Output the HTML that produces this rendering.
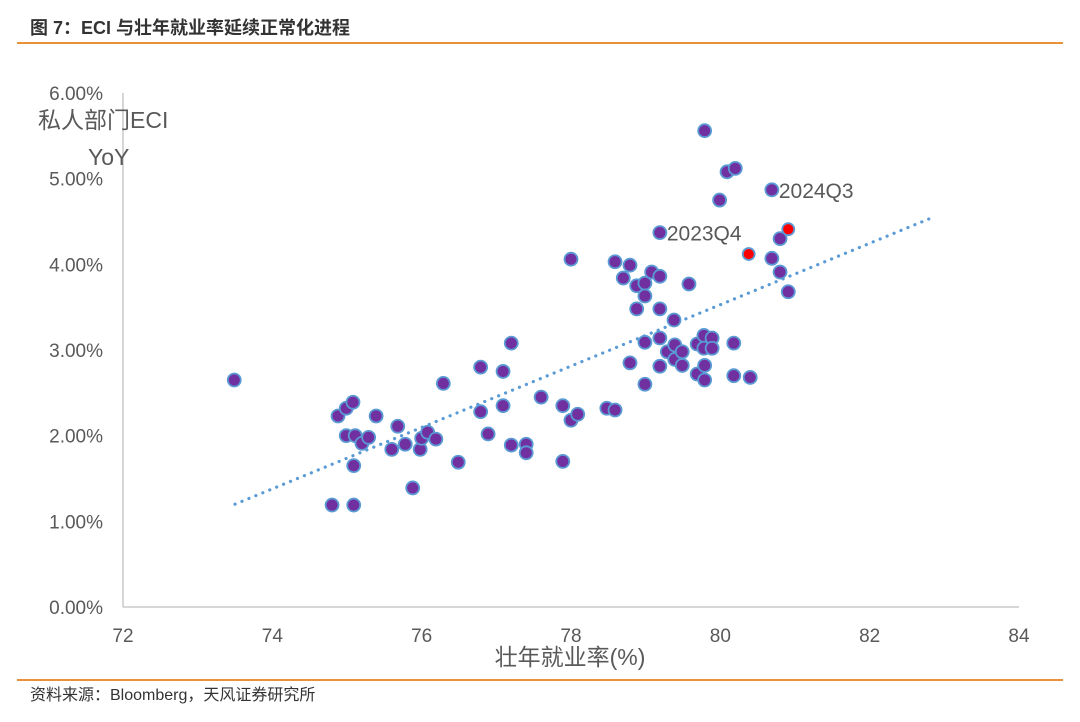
<!DOCTYPE html>
<html><head><meta charset="utf-8"><style>
body{margin:0;background:#fff;width:1080px;height:722px;overflow:hidden;font-family:"Liberation Sans","Noto Sans CJK SC",sans-serif}
</style></head><body>
<svg width="1080" height="722" style="position:absolute;left:0;top:0">
<text x="30" y="34" font-size="18" font-weight="bold" fill="#333">图 7：ECI 与壮年就业率延续正常化进程</text>
<line x1="17" y1="43" x2="1063" y2="43" stroke="#E8923A" stroke-width="2"/>
<line x1="17" y1="680" x2="1063" y2="680" stroke="#E8923A" stroke-width="2"/>
<text x="30" y="700" font-size="16" fill="#333">资料来源：Bloomberg，天风证券研究所</text>
<g id="plot"></g>
</svg>
<script>
const xTicks=[72,74,76,78,80,82,84];
const yTicks=[0,1,2,3,4,5,6];
const xs=[73.49,74.80,75.09,74.88,74.99,75.08,74.99,75.11,75.09,75.20,75.29,75.39,75.60,75.68,75.78,75.88,75.98,76.00,76.08,76.19,76.29,76.49,76.79,76.79,76.89,77.09,77.09,77.20,77.20,77.40,77.40,77.60,77.89,77.89,78.00,78.09,78.00,78.48,78.59,78.59,78.70,78.79,78.79,78.88,78.88,78.99,78.99,78.99,78.99,79.08,79.19,79.19,79.19,79.19,79.19,79.29,79.38,79.39,79.39,79.49,79.49,79.58,79.69,79.69,79.78,79.78,79.79,79.79,79.89,79.89,79.99,79.79,80.09,80.20,80.18,80.18,80.40,80.69,80.69,80.80,80.80,80.91];
const ys=[2.65,1.19,1.19,2.23,2.32,2.39,2.00,2.00,1.65,1.91,1.98,2.23,1.84,2.11,1.90,1.39,1.84,1.97,2.04,1.96,2.61,1.69,2.80,2.28,2.02,2.75,2.35,3.08,1.89,1.90,1.80,2.45,2.35,1.70,2.18,2.25,4.06,2.32,2.30,4.03,3.84,3.99,2.85,3.75,3.48,3.78,3.63,3.09,2.60,3.91,4.37,3.86,3.48,3.14,2.81,2.98,3.35,3.06,2.89,2.98,2.82,3.77,3.07,2.72,3.17,3.02,2.82,2.65,3.14,3.02,4.75,5.56,5.08,5.12,3.08,2.70,2.68,4.87,4.07,4.30,3.91,3.68];
const redX=[80.38,80.91];
const redY=[4.12,4.41];
const trendX=[73.5,82.85];
const trendY=[1.2,4.55];
const labels=[{t:"2024Q3",x:80.69,y:4.87},{t:"2023Q4",x:79.19,y:4.37}];
const X=v=>123+(v-72)*(896/12);
const Y=v=>607-v*(514/6);
const g=document.getElementById('plot');
const NS='http://www.w3.org/2000/svg';
function mk(tag,at){const e=document.createElementNS(NS,tag);for(const k in at)e.setAttribute(k,at[k]);g.appendChild(e);return e;}
let e;
e=mk('line',{x1:123,y1:Y(6),x2:123,y2:607,stroke:'#bfbfbf','stroke-width':1.3});


e=mk('line',{x1:123,y1:607,x2:1019,y2:607,stroke:'#bfbfbf','stroke-width':1.3});


yTicks.forEach(v=>{e=mk('text',{x:103,y:Y(v)+7,'text-anchor':'end','font-size':19,fill:'#595959'});e.textContent=v.toFixed(2)+'%';

});
xTicks.forEach(v=>{e=mk('text',{x:X(v),y:642,'text-anchor':'middle','font-size':19,fill:'#595959'});e.textContent=v;

});
e=mk('text',{x:570,y:665,'text-anchor':'middle','font-size':23,fill:'#595959'});e.textContent='壮年就业率(%)';


e=mk('text',{x:38,y:128,'font-size':23,fill:'#595959'});e.textContent='私人部门ECI';


e=mk('text',{x:88,y:165,'font-size':23,fill:'#595959'});e.textContent='YoY';


e=mk('line',{x1:X(trendX[0]),y1:Y(trendY[0]),x2:X(trendX[1]),y2:Y(trendY[1]),stroke:'#5B9BD5','stroke-width':3.2,'stroke-dasharray':'0.1 7.4','stroke-linecap':'round'});


xs.forEach((v,i)=>{e=mk('circle',{cx:X(v),cy:Y(ys[i]),r:6.5,fill:'#7030A0',stroke:'#5B9BD5','stroke-width':1.8});

});
redX.forEach((v,i)=>{e=mk('circle',{cx:X(v),cy:Y(redY[i]),r:6,fill:'#FF0000',stroke:'#5B9BD5','stroke-width':1.8});

});
labels.forEach(l=>{e=mk('text',{x:X(l.x)+7,y:Y(l.y)+8,'font-size':21,fill:'#595959'});e.textContent=l.t;

});
</script>
</body></html>
